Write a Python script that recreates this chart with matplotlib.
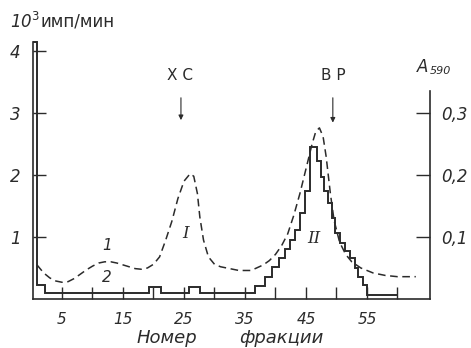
import matplotlib
matplotlib.use("Agg")
import matplotlib.pyplot as plt
from matplotlib import font_manager

# ---- data ----
# Curve 1 (dashed, absorbance A590 scaled x10 to left axis units)
curve1_frac = [0.9, 2, 3, 4, 5, 6, 7, 8, 9, 10, 11, 12, 13, 14, 15, 16, 17, 18, 19, 20,
               21, 22, 23, 24, 25, 26, 26.6, 27.2, 27.6, 28.2, 29, 30, 31, 32, 34, 36,
               38, 39, 40, 41, 42, 43, 44, 45, 46, 46.6, 47.2, 47.8, 48.3, 49, 49.6,
               50.5, 51.5, 52.5, 54, 56, 58, 60, 63]
curve1_vals = [0.55, 0.42, 0.34, 0.29, 0.27, 0.28, 0.33, 0.40, 0.47, 0.53, 0.58, 0.60, 0.60,
               0.58, 0.55, 0.52, 0.49, 0.48, 0.50, 0.56, 0.68, 0.95, 1.25, 1.62, 1.90, 2.02,
               1.98, 1.70, 1.32, 0.95, 0.68, 0.56, 0.52, 0.50, 0.46, 0.46, 0.55, 0.62, 0.72,
               0.86, 1.05, 1.35, 1.70, 2.10, 2.50, 2.70, 2.76, 2.62, 2.30, 1.70, 1.27,
               0.92, 0.72, 0.60, 0.50, 0.42, 0.38, 0.36, 0.36]

# Curve 2 (histogram, 10^3 imp/min)
hist_edges = [0.25, 0.95, 2.2, 19.3, 21.2, 25.8, 27.6, 36.6, 38.3, 39.4, 40.5, 41.6, 42.4,
              43.2, 44.0, 44.8, 45.7, 46.8, 47.4, 48.0, 48.6, 49.2, 49.8, 50.6, 51.4,
              52.2, 53.0, 53.6, 54.3, 55.0, 60.0]
hist_vals = [4.15, 0.23, 0.10, 0.19, 0.10, 0.19, 0.10, 0.21, 0.35, 0.52, 0.66, 0.80,
             0.95, 1.12, 1.38, 1.75, 2.45, 2.22, 1.97, 1.75, 1.55, 1.30, 1.06, 0.90,
             0.78, 0.66, 0.50, 0.36, 0.22, 0.06]

x_ticks = [5, 10, 15, 20, 25, 30, 35, 40, 45, 50, 55, 60]
x_ticklabels = ["5", "", "15", "", "25", "", "35", "", "45", "", "55", ""]
y_left_ticks = [1, 2, 3, 4]
y_left_labels = ["1", "2", "3", "4"]
y_right_ticks = [0.1, 0.2, 0.3]
y_right_labels = ["0,1", "0,2", "0,3"]

# ---- style ----
names = {f.name for f in font_manager.fontManager.ttflist}
fam = "Liberation Sans Narrow" if "Liberation Sans Narrow" in names else "DejaVu Sans"
plt.rcParams['font.family'] = [fam, 'DejaVu Sans']
ink = '#2b2b2b'

fig = plt.figure(figsize=(4.71, 3.48), dpi=100)
W, H = 471, 348
ax = fig.add_axes([33 / W, 49 / H, (430 - 33) / W, 4.2 * 62 / H])
ax.set_xlim(0.246, 65.33)
ax.set_ylim(0, 4.2)

ax.plot(curve1_frac, curve1_vals, color=ink, lw=1.1, linestyle=(0, (5, 3)))
ax.stairs(hist_vals, hist_edges, baseline=None, color=ink, lw=1.4)

for s in ['top', 'right']:
    ax.spines[s].set_visible(False)
ax.spines['left'].set_bounds(0, 4.15)
for s in ['left', 'bottom']:
    ax.spines[s].set_color(ink)
    ax.spines[s].set_linewidth(1.2)

ax.set_xticks(x_ticks)
ax.set_xticklabels(x_ticklabels, fontsize=11, style='italic', color=ink)
ax.set_yticks(y_left_ticks)
ax.set_yticklabels(y_left_labels, fontsize=12, style='italic', color=ink)
ax.tick_params(axis='x', direction='in', length=9, width=1, colors=ink, pad=9)
ax.tick_params(axis='y', direction='in', length=9, width=1, colors=ink, pad=9)

ax2 = ax.twinx()
ax2.set_ylim(0, 0.42)
for s in ['top', 'left', 'bottom']:
    ax2.spines[s].set_visible(False)
ax2.spines['right'].set_bounds(0, 0.335)
ax2.spines['right'].set_color(ink)
ax2.spines['right'].set_linewidth(1.2)
ax2.set_yticks(y_right_ticks)
ax2.set_yticklabels(y_right_labels, fontsize=12, style='italic', color=ink)
ax2.tick_params(axis='y', direction='in', length=10, width=1, colors=ink, pad=8)

# axis titles
fig.text(10 / W, 1 - 22 / H, "10$^3$", fontsize=12, style='italic', color=ink, va='center')
fig.text(40 / W, 1 - 22 / H, "имп/мин", fontsize=12, color=ink, va='center')
fig.text(417 / W, 1 - 67 / H, "A", fontsize=12, style='italic', color=ink, va='center')
fig.text(430 / W, 1 - 71 / H, "590", fontsize=8, style='italic', color=ink, va='center')
fig.text(167 / W, 1 - 338 / H, "Номер", fontsize=13, style='italic', color=ink,
         ha='center', va='center')
fig.text(281 / W, 1 - 338 / H, "фракции", fontsize=13, style='italic', color=ink,
         ha='center', va='center')

# annotations
ax.annotate("", xy=(24.5, 2.84), xytext=(24.5, 3.29),
            arrowprops=dict(arrowstyle='-|>', color=ink, lw=0.8, mutation_scale=7))
ax.annotate("", xy=(49.4, 2.80), xytext=(49.4, 3.29),
            arrowprops=dict(arrowstyle='-|>', color=ink, lw=0.8, mutation_scale=7))
ax.text(24.4, 3.61, "Х С", fontsize=11, color=ink, ha='center', va='center')
ax.text(49.4, 3.61, "В Р", fontsize=11, color=ink, ha='center', va='center')
ax.text(12.4, 0.87, "1", fontsize=11, style='italic', color=ink, ha='center', va='center')
ax.text(12.4, 0.34, "2", fontsize=11, style='italic', color=ink, ha='center', va='center')
ax.text(25.3, 1.06, "I", fontsize=12, style='italic', color=ink, ha='center', va='center',
        family='DejaVu Serif')
ax.text(46.3, 0.98, "II", fontsize=12, style='italic', color=ink, ha='center', va='center',
        family='DejaVu Serif')

fig.savefig("out.png", dpi=100)
